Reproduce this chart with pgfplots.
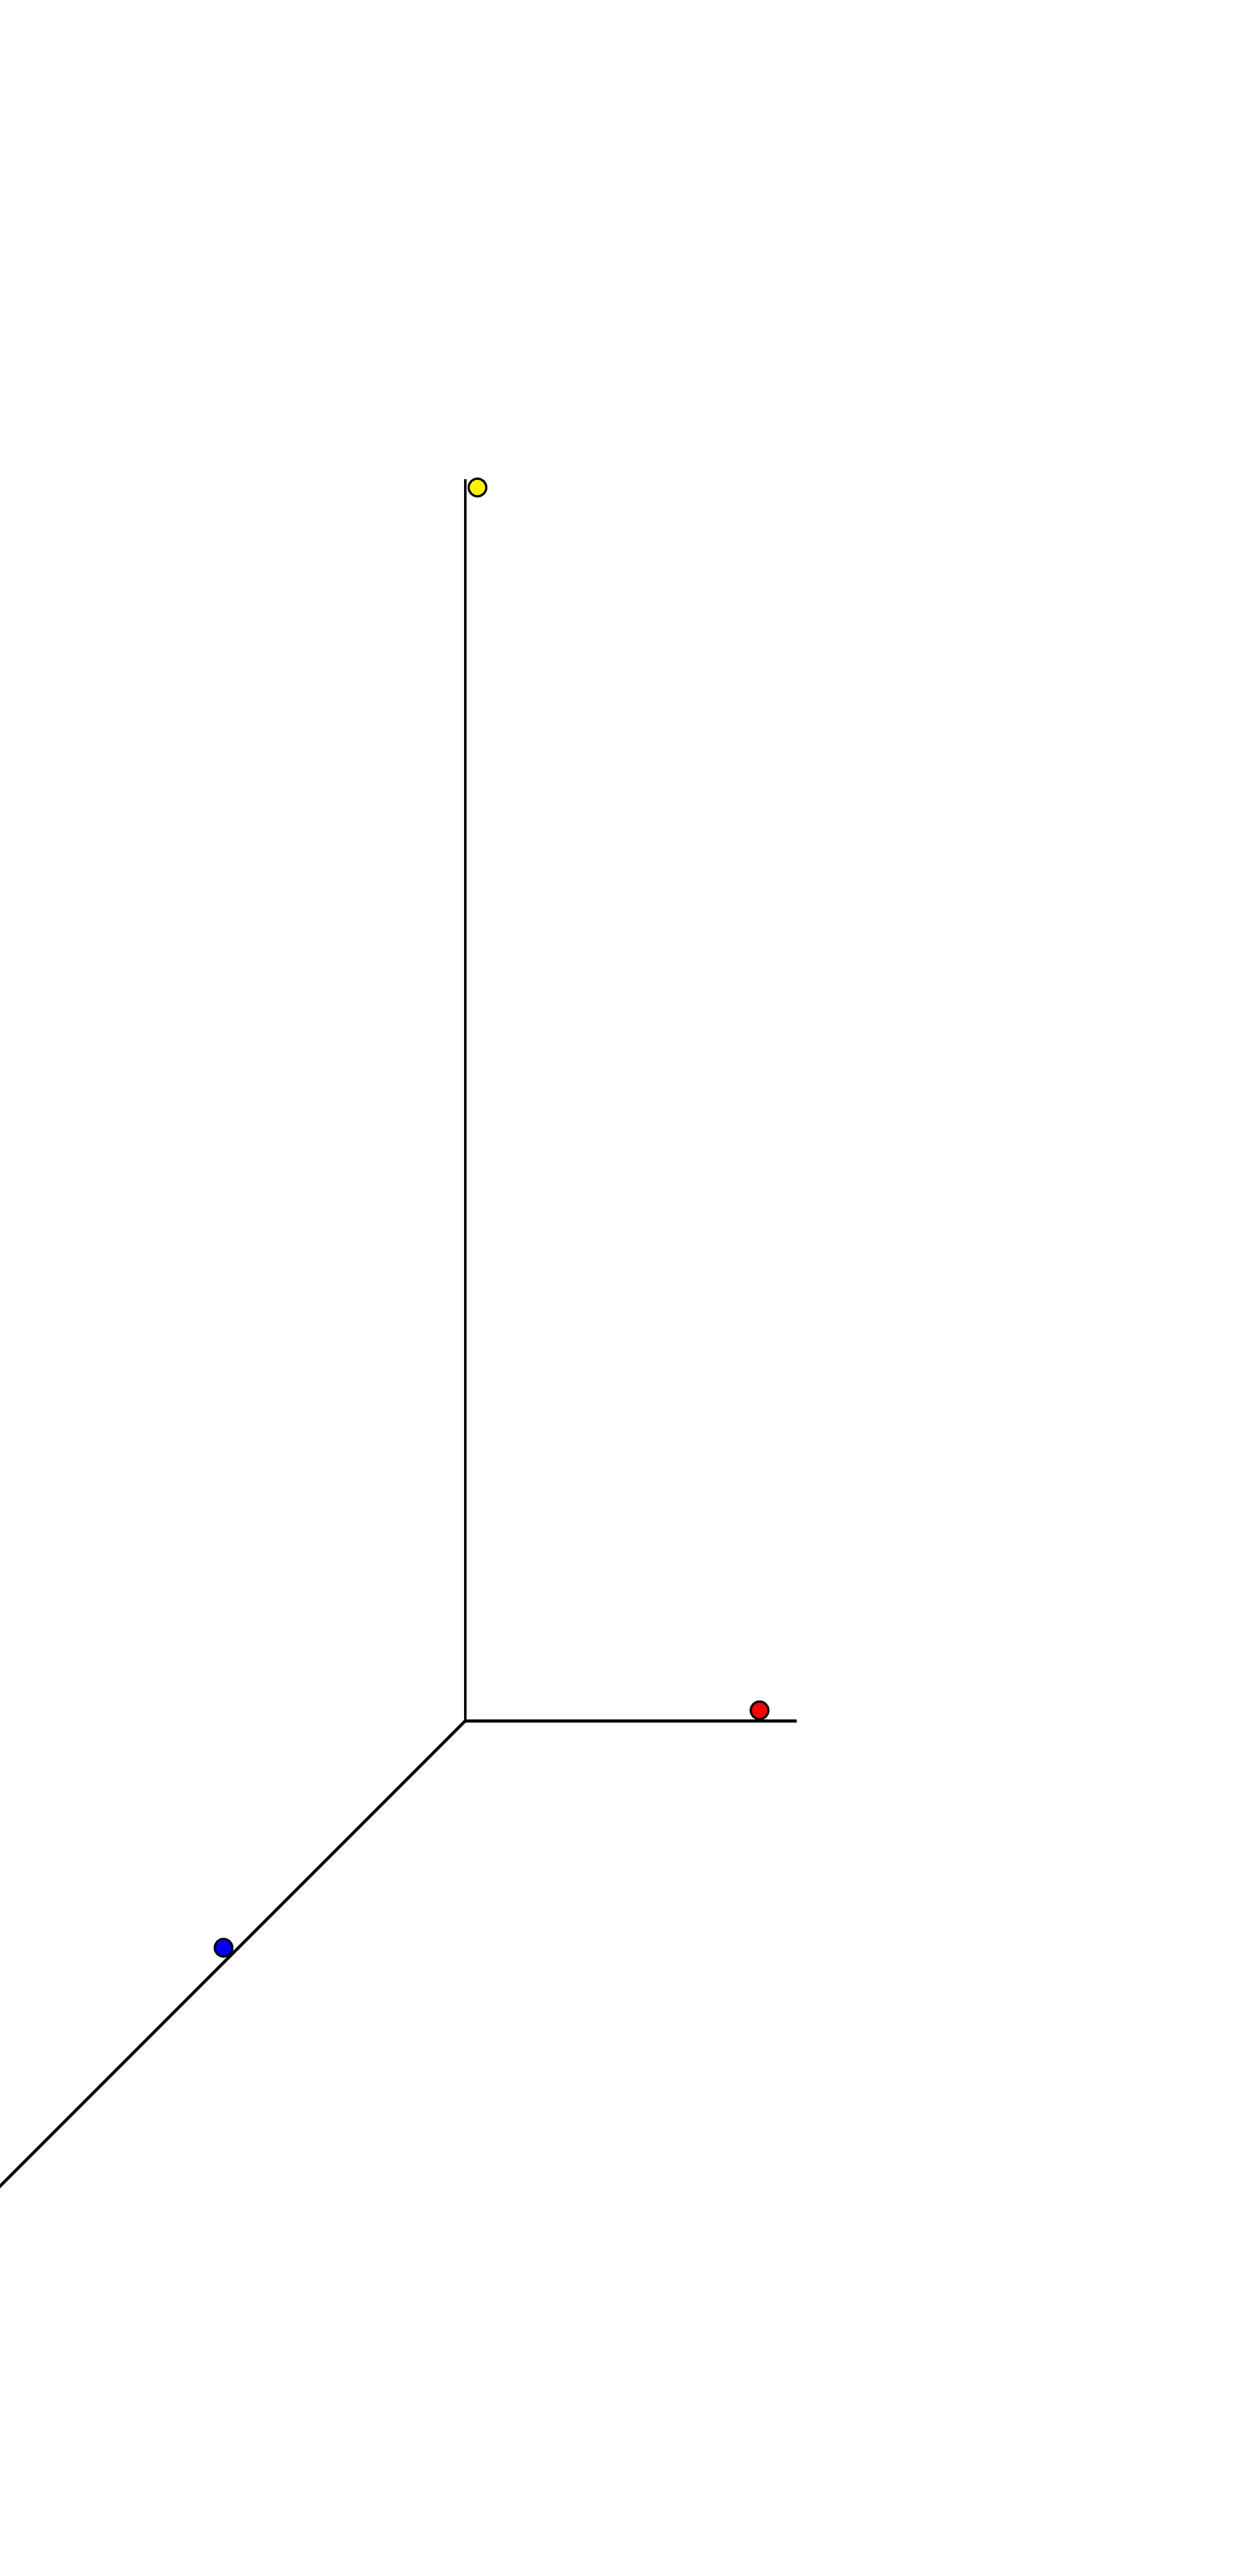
\documentclass[border=0pt]{standalone}
\usepackage{pgfplots}
\pgfplotsset{compat=1.18}
\begin{document}
\begin{tikzpicture}
\begin{axis}[
  hide axis,
  x={(-10pt,-10pt)}, y={(10pt,0pt)}, z={(0pt,10pt)},
  xmin=0, xmax=10, ymin=0, ymax=6, zmin=0, zmax=22.49,
  clip=false,
]
\addplot3[black, line width=0.55pt, mark=none] coordinates {(0,0,22.49) (0,0,0) (0,6,0)};
\addplot3[black, line width=0.55pt, mark=none] coordinates {(0,0,0) (10,0,0)};
\addplot3[only marks, mark=*, mark size=1.6pt, mark options={fill=yellow, draw=black, line width=0.4pt}] coordinates {(0,0.22,22.34)};
\addplot3[only marks, mark=*, mark size=1.6pt, mark options={fill=red, draw=black, line width=0.4pt}] coordinates {(0,5.33,0.19)};
\addplot3[only marks, mark=*, mark size=1.6pt, mark options={fill=blue, draw=black, line width=0.4pt}] coordinates {(4.38,0,0.27)};
\coordinate (O) at (axis cs:0,0,0);
\end{axis}
\pgfresetboundingbox
\path[use as bounding box] ([shift={(-84.3pt,-154.9pt)}]O) rectangle ([shift={(140.3pt,311.7pt)}]O);
\end{tikzpicture}
\end{document}
